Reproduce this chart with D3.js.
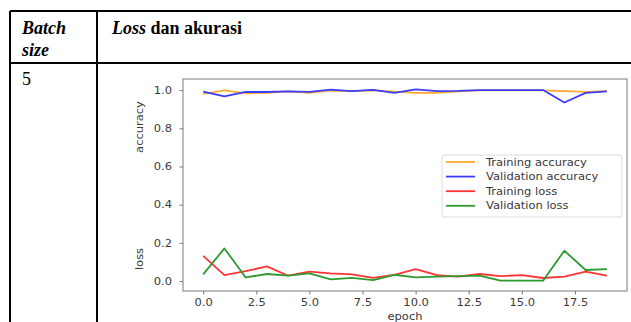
<!DOCTYPE html>
<html>
<head>
<meta charset="utf-8">
<script src="https://cdn.jsdelivr.net/npm/d3@7"></script>
<style>
body { margin: 0; background: #fff; }
</style>
</head>
<body>
<div id="chart-area"></div>
<script>
// data
var epochs = [0, 1, 2, 3, 4, 5, 6, 7, 8, 9, 10, 11, 12, 13, 14, 15, 16, 17, 18, 19];
var trainAcc = [0.980, 0.999, 0.983, 0.986, 0.993, 0.986, 0.997, 0.995, 0.998, 0.992, 0.985, 0.985, 0.993, 0.998, 0.998, 0.998, 0.998, 0.995, 0.991, 0.994];
var valAcc = [0.992, 0.967, 0.990, 0.990, 0.993, 0.991, 1.002, 0.994, 1.001, 0.985, 1.004, 0.995, 0.996, 1.000, 1.000, 1.000, 1.000, 0.935, 0.985, 0.993];
var trainLoss = [0.132, 0.031, 0.052, 0.077, 0.028, 0.049, 0.040, 0.035, 0.017, 0.033, 0.063, 0.031, 0.023, 0.037, 0.026, 0.031, 0.016, 0.023, 0.049, 0.028];
var valLoss = [0.035, 0.171, 0.019, 0.037, 0.028, 0.040, 0.009, 0.017, 0.005, 0.033, 0.019, 0.023, 0.026, 0.028, 0.002, 0.002, 0.002, 0.159, 0.058, 0.063];
var seriesNames = ["Training accuracy", "Validation accuracy", "Training loss", "Validation loss"];
var yTicks = [0.0, 0.2, 0.4, 0.6, 0.8, 1.0];
var xTicks = [0, 2.5, 5, 7.5, 10, 12.5, 15, 17.5];

var colors = ["#ffab2e", "#3c3cff", "#ff3434", "#2f9a2f"];
var series = [trainAcc, valAcc, trainLoss, valLoss];

var W = 631, H = 322;
var stretch = 1.15; // picture text is a bit wide

var svg = d3.select("#chart-area").append("svg")
  .attr("width", W)
  .attr("height", H)
  .style("display", "block");

// ---- table ----
var tbl = svg.append("g");
var tLeft = 10, tDiv = 97, tTop = 11, tHead = 63;
tbl.append("line").attr("x1", tLeft).attr("x2", W + 5).attr("y1", tTop).attr("y2", tTop);
tbl.append("line").attr("x1", tLeft).attr("x2", W + 5).attr("y1", tHead).attr("y2", tHead);
tbl.append("line").attr("x1", tLeft).attr("x2", tLeft).attr("y1", tTop).attr("y2", H + 5);
tbl.append("line").attr("x1", tDiv).attr("x2", tDiv).attr("y1", tTop).attr("y2", H + 5);
tbl.selectAll("line").attr("stroke", "#000").attr("stroke-width", 2);

var serif = "'Liberation Serif', 'Times New Roman', serif";
tbl.append("text").attr("x", 22).attr("y", 34)
  .attr("font-family", serif).attr("font-size", 18)
  .attr("font-weight", "bold").attr("font-style", "italic").text("Batch");
tbl.append("text").attr("x", 22).attr("y", 56)
  .attr("font-family", serif).attr("font-size", 18)
  .attr("font-weight", "bold").attr("font-style", "italic").text("size");
var head = tbl.append("text").attr("x", 112).attr("y", 34)
  .attr("font-family", serif).attr("font-size", 18).attr("font-weight", "bold");
head.append("tspan").attr("font-style", "italic").text("Loss");
head.append("tspan").text(" dan akurasi");
tbl.append("text").attr("x", 22).attr("y", 85)
  .attr("font-family", serif).attr("font-size", 18).text("5");

// ---- chart ----
var frame = { left: 183, right: 627, top: 79, bottom: 291 };

var x = d3.scaleLinear()
  .domain([-0.95, 19.95])
  .range([frame.left, frame.right]);

var y = d3.scaleLinear()
  .domain([-0.052, 1.058])
  .range([frame.bottom, frame.top]);

var g = svg.append("g")
  .attr("font-family", "'DejaVu Sans', sans-serif");

var textCol = "#3a3a3a", axisCol = "#7a7a7a";

// y axis
var yAxisCall = d3.axisLeft(y)
  .tickValues(yTicks)
  .tickFormat(d3.format(".1f"))
  .tickSize(3.5)
  .tickPadding(6);
var yAx = g.append("g")
  .attr("transform", "translate(" + frame.left + ",0)")
  .call(yAxisCall);

// x axis
var xAxisCall = d3.axisBottom(x)
  .tickValues(xTicks)
  .tickFormat(d3.format(".1f"))
  .tickSize(3.5)
  .tickPadding(4.5);
var xAx = g.append("g")
  .attr("transform", "translate(0," + frame.bottom + ")")
  .call(xAxisCall);

[yAx, xAx].forEach(function(ax) {
  ax.select(".domain").remove();
  ax.selectAll(".tick line").attr("stroke", axisCol);
  ax.selectAll(".tick text")
    .attr("fill", textCol)
    .attr("font-size", 10)
    .attr("font-family", "'DejaVu Sans', sans-serif");
});
yAx.selectAll(".tick text")
  .attr("x", -11 / stretch)
  .attr("transform", "scale(" + stretch + ",1)");
xAx.selectAll(".tick text")
  .attr("transform", "scale(" + stretch + ",1)");

// frame
g.append("rect")
  .attr("x", frame.left).attr("y", frame.top)
  .attr("width", frame.right - frame.left)
  .attr("height", frame.bottom - frame.top)
  .attr("fill", "none")
  .attr("stroke", axisCol)
  .attr("stroke-width", 1);

// axis labels
function label(txt, cx, cy, rot) {
  g.append("text")
    .attr("transform", "translate(" + cx + "," + cy + ") rotate(" + rot + ") scale(" + stretch + ",1)")
    .attr("text-anchor", "middle")
    .attr("font-size", 10)
    .attr("fill", textCol)
    .text(txt);
}
label("accuracy", 143, 127, -90);
label("loss", 143, 259, -90);
label("epoch", (frame.left + frame.right) / 2, 320, 0);

// lines
var line = d3.line()
  .x(function(d, i) { return x(epochs[i]); })
  .y(function(d) { return y(d); });

series.forEach(function(s, k) {
  g.append("path")
    .datum(s)
    .attr("d", line)
    .attr("fill", "none")
    .attr("stroke", colors[k])
    .attr("stroke-width", 1.8)
    .attr("stroke-linejoin", "round");
});

// legend
var leg = g.append("g");
leg.append("rect")
  .attr("x", 442).attr("y", 155)
  .attr("width", 180).attr("height", 62)
  .attr("rx", 2)
  .attr("fill", "#fff")
  .attr("fill-opacity", 0.85)
  .attr("stroke", "#dcdcdc");

seriesNames.forEach(function(name, k) {
  var ly = 162 + k * 14.6;
  leg.append("line")
    .attr("x1", 446).attr("x2", 475)
    .attr("y1", ly).attr("y2", ly)
    .attr("stroke", colors[k])
    .attr("stroke-width", 1.8);
  leg.append("text")
    .attr("transform", "translate(486," + (ly + 3.6) + ") scale(" + stretch + ",1)")
    .attr("font-size", 10)
    .attr("fill", textCol)
    .text(name);
});
</script>
</body>
</html>
